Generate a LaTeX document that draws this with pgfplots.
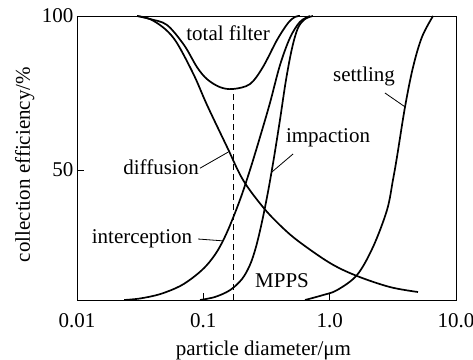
\documentclass[border=0pt]{standalone}
\usepackage{fontspec}
\setmainfont{Liberation Serif}
\usepackage{pgfplots}
\pgfplotsset{compat=1.18}
\begin{document}
\begin{tikzpicture}
\useasboundingbox (-77pt,-59pt) rectangle (396pt,300pt);
\begin{axis}[
  at={(0,0)}, anchor=south west,
  scale only axis, width=379pt, height=284pt,
  xmode=log, xmin=0.01, xmax=10, ymin=7.8, ymax=100,
  xtick={0.01,0.1,1,10}, xticklabels={0.01,0.1,1.0,10.0},
  xminorticks=false,
  ytick={50,100},
  tick align=inside, tick pos=left,
  major tick length=7pt,
  axis line style={line width=0.9pt},
  every tick/.style={black, line width=0.8pt},
  /pgf/number format/assume math mode=true,
  font=\fontsize{21}{25}\selectfont,
  tick label style={font=\fontsize{21}{25}\selectfont},
  xticklabel style={anchor=base, yshift=-27pt},
  every axis x label/.style={at={([yshift=-55pt]axis description cs:0.492,0)}, anchor=base, font=\fontsize{21}{25}\selectfont},
  every axis y label/.style={at={([xshift=-47pt]axis description cs:0,0.477)}, rotate=90, anchor=base, font=\fontsize{21}{25}\selectfont},
  xlabel={particle diameter/μm},
  ylabel={collection efficiency/\%},
  clip=false,
]
% total filter
\addplot[black, line width=1.7pt, smooth, tension=0.55] coordinates {
(0.0299,100) (0.0379,99.0) (0.0515,97.1) (0.0703,90.6) (0.0891,83.4) (0.107,79.5) (0.1355,76.9) (0.172,76.3) (0.234,77.9) (0.296,83.4) (0.383,92.2) (0.468,97.7) (0.532,99.7) (0.582,100)};
% diffusion
\addplot[black, line width=1.7pt, smooth, tension=0.55] coordinates {
(0.0299,100) (0.0379,99.0) (0.0497,95.8) (0.0619,91.2) (0.0843,80.8) (0.107,71.1) (0.154,57.5) (0.206,46.8) (0.296,38.0) (0.404,32.1) (0.561,27.0) (1.006,19.8) (1.645,15.6) (3.006,12.0) (5.0,10.4)};
% interception
\addplot[black, line width=1.7pt, smooth, tension=0.55] coordinates {
(0.0236,7.8) (0.0316,8.3) (0.0454,9.7) (0.0653,12.3) (0.0859,15.6) (0.107,19.2) (0.1305,24.0) (0.1567,30.5) (0.195,40.3) (0.234,50.0) (0.281,60.7) (0.337,71.8) (0.404,84.0) (0.485,92.9) (0.582,98.1) (0.698,100)};
% impaction
\addplot[black, line width=1.7pt, smooth, tension=0.55] coordinates {
(0.0942,7.8) (0.124,8.8) (0.1626,11.0) (0.2023,14.6) (0.234,19.2) (0.261,25.0) (0.291,33.1) (0.325,42.9) (0.362,53.9) (0.404,66.2) (0.451,79.2) (0.504,89.6) (0.561,96.1) (0.638,99.0) (0.738,100)};
% settling
\addplot[black, line width=1.7pt, smooth, tension=0.55] coordinates {
(0.638,7.8) (0.885,9.4) (1.143,11.0) (1.645,15.9) (2.203,25.0) (2.843,37.0) (3.17,46.8) (3.41,54.2) (3.95,70.5) (4.57,83.4) (5.38,93.2) (6.58,100)};
% MPPS dashed line
\addplot[black, line width=0.9pt, dash pattern=on 6pt off 4pt] coordinates {(0.172,7.8) (0.172,76.3)};
% pointers
\draw[line width=0.8pt] (axis cs:0.0942,50.6) -- (axis cs:0.157,55.8);
\draw[line width=0.8pt] (axis cs:0.0908,27.6) -- (axis cs:0.143,27.0);
\draw[line width=0.8pt] (axis cs:0.513,55.2) -- (axis cs:0.350,49.4);
\draw[line width=0.8pt] (axis cs:2.74,75.0) -- (axis cs:3.95,70.5);
% labels
\node[anchor=base, inner sep=0pt] at (axis cs:0.157,92.2) {total filter};
\node[anchor=base, inner sep=0pt] at (axis cs:0.0463,48.4) {diffusion};
\node[anchor=base, inner sep=0pt] at (axis cs:0.0327,26.3) {interception};
\node[anchor=base, inner sep=0pt] at (axis cs:0.970,58.8) {impaction};
\node[anchor=base, inner sep=0pt] at (axis cs:1.87,78.6) {settling};
\node[anchor=base, inner sep=0pt] at (axis cs:0.420,12.0) {MPPS};
\end{axis}
\end{tikzpicture}
\end{document}
